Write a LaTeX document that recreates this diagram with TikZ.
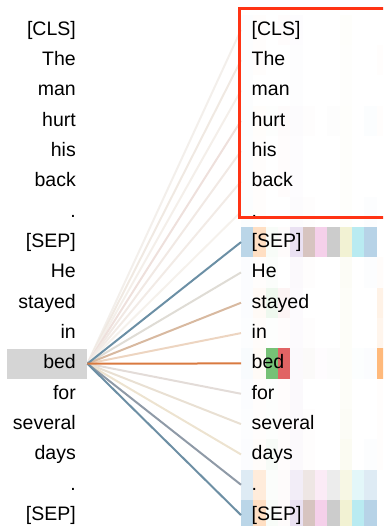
\documentclass[tikz,border=0pt]{standalone}
\usepackage{fontspec}
\setmainfont{Liberation Sans}
% head colours (category10)
\definecolor{hc1}{HTML}{1F77B4}
\definecolor{hc2}{HTML}{FF7F0E}
\definecolor{hc3}{HTML}{2CA02C}
\definecolor{hc4}{HTML}{D62728}
\definecolor{hc5}{HTML}{9467BD}
\definecolor{hc6}{HTML}{8C564B}
\definecolor{hc7}{HTML}{E377C2}
\definecolor{hc8}{HTML}{7F7F7F}
\definecolor{hc9}{HTML}{BCBD22}
\definecolor{hc10}{HTML}{17BECF}
\definecolor{hc11}{HTML}{1F77B4}
\definecolor{hc12}{HTML}{FF7F0E}
% connector colours
\definecolor{ln0}{HTML}{F3EFEB}
\definecolor{ln1}{HTML}{F0E9E2}
\definecolor{ln2}{HTML}{F4EFEA}
\definecolor{ln3}{HTML}{EEE0DC}
\definecolor{ln4}{HTML}{F1E9E4}
\definecolor{ln5}{HTML}{F2EBE6}
\definecolor{ln6}{HTML}{F5F1EC}
\definecolor{ln7}{HTML}{6B8FA5}
\definecolor{ln8}{HTML}{DFDCD5}
\definecolor{ln9}{HTML}{D8B9A0}
\definecolor{ln10}{HTML}{EDD5C1}
\definecolor{ln11}{HTML}{D97A40}
\definecolor{ln12}{HTML}{E3DCD8}
\definecolor{ln13}{HTML}{E9E0D3}
\definecolor{ln14}{HTML}{EDE3D0}
\definecolor{ln15}{HTML}{8F9AA7}
\definecolor{ln16}{HTML}{6D8FA4}
\definecolor{focusred}{HTML}{FF3314}
\definecolor{selgray}{HTML}{D5D5D5}
\begin{document}
\begin{tikzpicture}[x=1bp,y=-1bp,
  tok/.style={inner sep=0pt, font=\fontsize{19.5bp}{22bp}\selectfont, text=black},
  lefttok/.style={tok, anchor=base east},
  righttok/.style={tok, anchor=base west},
  conn/.style={line width=2bp},
  focusbox/.style={draw=focusred, line width=3bp}]
\useasboundingbox (0,0) rectangle (383,526);
\clip (0,0) rectangle (383,526);
% heatmap cells
\foreach \row [count=\r from 0] in {
 {0.01,0.01,0.00,0.01,0.02,0.00,0.00,0.00,0.02,0.00,0.00,0.00},
 {0.01,0.01,0.00,0.00,0.015,0.00,0.00,0.00,0.015,0.00,0.00,0.01},
 {0.01,0.00,0.00,0.00,0.015,0.00,0.00,0.00,0.015,0.00,0.00,0.00},
 {0.015,0.015,0.01,0.02,0.025,0.01,0.00,0.01,0.02,0.00,0.015,0.01},
 {0.01,0.01,0.00,0.01,0.02,0.00,0.00,0.00,0.02,0.00,0.00,0.00},
 {0.01,0.01,0.00,0.01,0.02,0.00,0.00,0.00,0.02,0.00,0.00,0.00},
 {0.015,0.01,0.00,0.00,0.025,0.01,0.00,0.00,0.02,0.00,0.01,0.00},
 {0.30,0.25,0.03,0.02,0.20,0.35,0.35,0.40,0.20,0.30,0.32,0.00},
 {0.02,0.01,0.02,0.00,0.04,0.01,0.00,0.00,0.04,0.00,0.01,0.02},
 {0.02,0.04,0.08,0.05,0.03,0.00,0.00,0.00,0.03,0.00,0.00,0.10},
 {0.01,0.02,0.01,0.01,0.03,0.01,0.00,0.00,0.03,0.00,0.00,0.08},
 {0.03,0.03,0.65,0.72,0.04,0.03,0.02,0.02,0.03,0.01,0.02,0.55},
 {0.02,0.01,0.01,0.01,0.04,0.00,0.00,0.00,0.03,0.00,0.00,0.01},
 {0.01,0.01,0.01,0.01,0.04,0.01,0.00,0.00,0.04,0.00,0.00,0.01},
 {0.02,0.02,0.04,0.01,0.04,0.01,0.00,0.00,0.06,0.00,0.01,0.01},
 {0.15,0.15,0.02,0.02,0.12,0.15,0.15,0.15,0.12,0.12,0.15,0.00},
 {0.30,0.25,0.03,0.02,0.20,0.35,0.35,0.40,0.20,0.30,0.32,0.00}} {
  \foreach \op [count=\c from 1] in \row {
    \fill[hc\c, fill opacity=\op] ({241+12.33*(\c-1)},{14.7+30.33*\r}) rectangle ++(12.33,30.33);
  }
}
% selected token highlight
\node[fill=selgray, inner sep=0pt, minimum width=80bp, minimum height=30.33bp, anchor=north west] (bedbox) at (7,348.3) {};
% tokens
\foreach \t [count=\i from 0] in {{[CLS]},The,man,hurt,his,back,.,{[SEP]},He,stayed,in,bed,for,several,days,.,{[SEP]}} {
  \node[lefttok] (L\i) at (76,{35.3+30.33*\i}) {\t};
  \node[righttok] (R\i) at (251.5,{35.3+30.33*\i}) {\t};
  \coordinate (T\i) at (241,{29.8+30.33*\i});
}
% attention connectors
\foreach \i in {0,1,2,3,4,5,6,8,12,13,14,10,9,15,7,16,11} {
  \draw[conn, ln\i] (bedbox.east) -- (T\i);
}
% focus box
\draw[focusbox] (239.5,8.5) rectangle (395,217.5);
\end{tikzpicture}
\end{document}
